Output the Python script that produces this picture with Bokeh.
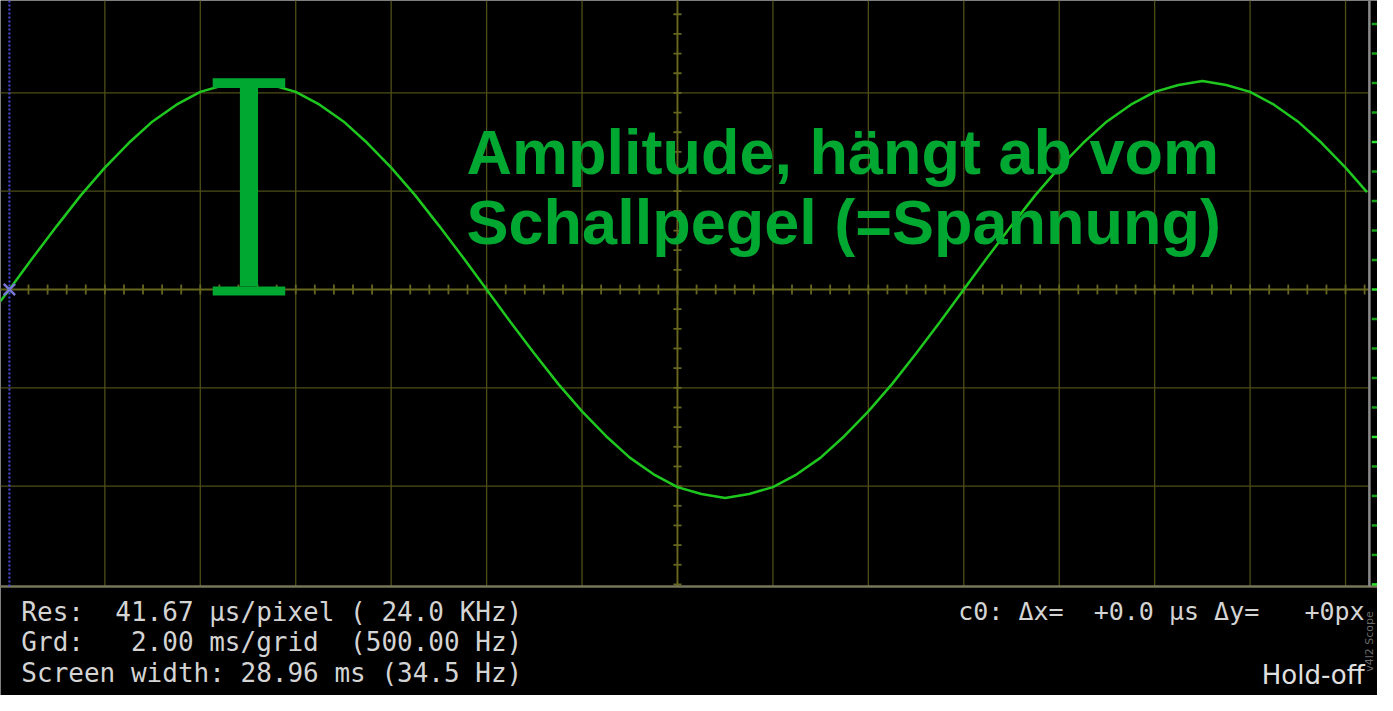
from bokeh.plotting import figure
from bokeh.models import Range1d, Label
from bokeh.embed import file_html
from bokeh.resources import INLINE

# ---- data (time in ms, voltage in grid divisions) ----
time_ms = [-0.19, 0.0, 0.5, 1.0, 1.5, 2.0, 2.5, 3.0, 3.5, 4.0, 4.5, 5.0,
           5.5, 6.0, 6.5, 7.0, 7.5, 8.0, 8.5, 9.0, 9.5, 10.0,
           10.5, 11.0, 11.5, 12.0, 12.5, 13.0, 13.5, 14.0, 14.5, 15.0,
           15.5, 16.0, 16.5, 17.0, 17.5, 18.0, 18.5, 19.0, 19.5, 20.0,
           20.5, 21.0, 21.5, 22.0, 22.5, 23.0, 23.5, 24.0, 24.5, 25.0,
           25.5, 26.0, 26.5, 27.0, 27.5, 28.0, 28.45]
signal_div = [-0.12, 0.00, 0.33, 0.65, 0.96, 1.24, 1.49, 1.71, 1.88, 2.01, 2.08, 2.10,
              2.08, 2.01, 1.88, 1.71, 1.49, 1.24, 0.96, 0.65, 0.33, 0.00,
              -0.33, -0.65, -0.96, -1.24, -1.49, -1.71, -1.88, -2.01, -2.08, -2.12,
              -2.08, -2.01, -1.88, -1.71, -1.49, -1.24, -0.96, -0.65, -0.33, 0.00,
              0.33, 0.65, 0.96, 1.24, 1.49, 1.71, 1.88, 2.01, 2.08, 2.12,
              2.08, 2.01, 1.88, 1.71, 1.49, 1.24, 0.99]

ms_per_grid = 2.0
screen_ms = 28.5
grid_x = [2, 4, 6, 8, 10, 12, 14, 16, 18, 20, 22, 24, 26, 28]
grid_y = [-2, -1, 1, 2]
center_t = 14.0

NB = "\u00a0"
annotation_lines = ["Amplitude, hängt ab vom", "Schallpegel (=Spannung)"]
info_left = ["Res:  41.67 µs/pixel ( 24.0 KHz)",
             "Grd:   2.00 ms/grid  (500.00 Hz)",
             "Screen width: 28.96 ms (34.5 Hz)"]
info_right = "c0: Δx=  +0.0 µs Δy=   +0px"
holdoff = "Hold-off"
side_label = "v4l2 Scope"

# ---- figure ----
X0, X1 = -0.187, 28.67
Y0, Y1 = -4.13, 2.94
TOP = Y1
BOT = -3.02

p = figure(width=1377, height=695, x_range=Range1d(X0, X1), y_range=Range1d(Y0, Y1),
           output_backend="svg", toolbar_location=None, min_border=0,
           background_fill_color="black", border_fill_color="black",
           outline_line_color=None)
p.xaxis.visible = False
p.yaxis.visible = False
p.xgrid.visible = False
p.ygrid.visible = False

olive = "#4e4e18"
olive_c = "#66661f"

# vertical grid lines
p.segment(x0=grid_x, y0=[BOT] * len(grid_x), x1=grid_x, y1=[TOP] * len(grid_x),
          line_color=olive, line_width=1.3)
# horizontal grid lines
p.segment(x0=[X0] * len(grid_y), y0=grid_y, x1=[screen_ms] * len(grid_y), y1=grid_y,
          line_color=olive, line_width=1.3)
# center horizontal line
p.segment(x0=[X0], y0=[0], x1=[screen_ms], y1=[0], line_color=olive_c, line_width=2.2)
# center vertical line
p.segment(x0=[center_t], y0=[BOT], x1=[center_t], y1=[TOP], line_color=olive_c, line_width=1.8)

# minor ticks on horizontal center line (every 0.4 ms)
tx = [round(0.4 * k, 2) for k in range(1, 72)]
p.segment(x0=tx, y0=[-0.05] * len(tx), x1=tx, y1=[0.05] * len(tx),
          line_color=olive_c, line_width=1.8)
# minor ticks on vertical center line (every 0.2 div)
ty = [round(0.2 * k, 2) for k in range(-15, 15) if k != 0]
p.segment(x0=[center_t - 0.085] * len(ty), y0=ty, x1=[center_t + 0.085] * len(ty), y1=ty,
          line_color=olive_c, line_width=1.8)

# bottom border of the screen
p.segment(x0=[X0], y0=[BOT], x1=[X1], y1=[BOT], line_color="#76765a", line_width=2.5)
# right gray border
p.segment(x0=[screen_ms], y0=[BOT], x1=[screen_ms], y1=[TOP], line_color="#8a8a8a", line_width=2.5)
# right green ticks (every 0.3 div)
rk = list(range(-10, 10))
ry = [round(0.3 * k, 2) for k in rk]
rc = ["#2ee02e" if k % 5 == 0 else "#16a016" for k in rk]
p.segment(x0=[28.55] * len(ry), y0=ry, x1=[28.66] * len(ry), y1=ry, line_color=rc, line_width=2.5)

# trigger cursor (blue dotted) and marker
p.segment(x0=[0], y0=[BOT], x1=[0], y1=[TOP], line_color="#4a4ae0", line_width=2, line_dash="2 2")

# signal
p.line(time_ms, signal_div, line_color="#1ec81e", line_width=2.5)
p.scatter([0], [0], marker="x", size=16, line_color="#7878d8", line_width=2.5)

# amplitude "I" marker, from zero to the first peak
green = "#00a832"
i_peak = signal_div.index(max(signal_div[:20]))
pk_t = time_ms[i_peak]
pk_v = signal_div[i_peak]
p.quad(left=[pk_t - 0.17], right=[pk_t + 0.21], bottom=[0.03], top=[pk_v - 0.05],
       fill_color=green, line_color=None)
p.quad(left=[pk_t - 0.74, pk_t - 0.74], right=[pk_t + 0.78, pk_t + 0.78],
       bottom=[pk_v - 0.05, -0.06], top=[pk_v + 0.05, 0.03],
       fill_color=green, line_color=None)

# annotation text
for txt, yy in zip(annotation_lines, [1.40, 0.69]):
    p.add_layout(Label(x=9.58, y=yy, text=txt, text_color=green,
                       text_font="Liberation Sans", text_font_style="bold",
                       text_font_size="63px", text_baseline="alphabetic"))

# info panel
for txt, yy in zip(info_left, [-3.28, -3.59, -3.90]):
    p.add_layout(Label(x=0.25, y=yy, text=txt.replace(" ", NB), text_color="#d4d4d4",
                       text_font="DejaVu Sans Mono", text_font_size="26px",
                       text_baseline="alphabetic"))
p.add_layout(Label(x=28.40, y=-3.28, text=info_right.replace(" ", NB), text_color="#d4d4d4",
                   text_font="DejaVu Sans Mono", text_font_size="25px",
                   text_baseline="alphabetic", text_align="right"))
p.add_layout(Label(x=28.40, y=-3.92, text=holdoff, text_color="#e0e0e0",
                   text_font="DejaVu Sans", text_font_size="26px",
                   text_baseline="alphabetic", text_align="right"))
p.add_layout(Label(x=28.50, y=-3.58, text=side_label.replace(" ", NB), text_color="#6a6a6a",
                   text_font="DejaVu Sans", text_font_size="11px", angle=1.5708,
                   text_baseline="middle", text_align="center"))

open("out.html", "w").write(file_html(p, INLINE))
